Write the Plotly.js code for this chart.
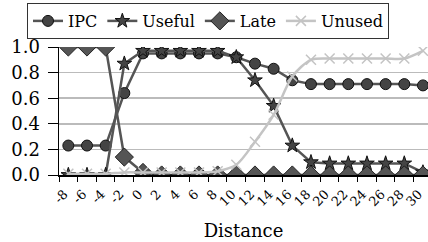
<!DOCTYPE html>
<html><head><meta charset="utf-8">
<script src="https://cdn.plot.ly/plotly-3.0.1.min.js"></script>
<style>html,body{margin:0;padding:0;background:#fff;}#chart{width:428px;height:242px;}</style>
</head><body><div id="chart"></div>
<script>
const distance = [-8,-6,-4,-2,0,2,4,6,8,10,12,14,16,18,20,22,24,26,28,30];
const ipc    = [0.23,0.23,0.23,0.64,0.95,0.95,0.95,0.95,0.95,0.92,0.87,0.83,0.74,0.71,0.71,0.71,0.71,0.71,0.71,0.70];
const useful = [0.0,0.0,0.0,0.87,0.97,0.97,0.97,0.97,0.97,0.92,0.74,0.54,0.23,0.10,0.09,0.09,0.09,0.09,0.09,0.02];
const late   = [1.0,1.0,1.0,0.14,0.02,0,0,0,0,0,0,0,0,0,0,0,0,0,0,0];
const unused = [0.01,0.01,0.01,0.02,0.02,0.02,0.02,0.02,0.03,0.08,0.26,0.47,0.77,0.90,0.91,0.91,0.91,0.91,0.91,0.97];
const tickLabels = distance.map(String);

// ticks sit on category boundaries, half a step left of each point
const tickPos = distance.map(d => d - 1);

const serif = 'DejaVu Serif';
const traces = [
  {x: distance, y: ipc, name: 'IPC', mode: 'lines+markers',
   line: {color: '#555555', width: 2.5},
   marker: {symbol: 'circle', size: 11, color: '#444444', line: {color: '#111111', width: 1}}},
  {x: distance, y: useful, name: 'Useful', mode: 'lines+markers',
   line: {color: '#555555', width: 2.5},
   marker: {symbol: 'star', size: 11, color: '#444444', line: {color: '#111111', width: 1}}},
  {x: distance, y: late, name: 'Late', mode: 'lines+markers',
   line: {color: '#555555', width: 2.5},
   marker: {symbol: 'diamond', size: 14, color: '#555555', line: {color: '#222222', width: 1}}},
  {x: distance, y: unused, name: 'Unused', mode: 'lines+markers',
   line: {color: '#c4c4c4', width: 2.5, shape: 'spline', smoothing: 0.8},
   marker: {symbol: 'x-thin', size: 10, color: '#c4c4c4', line: {color: '#c4c4c4', width: 1.5}}}
];

const layout = {
  width: 428, height: 242,
  margin: {l: 59, r: 0, t: 47, b: 67},
  paper_bgcolor: '#ffffff', plot_bgcolor: '#ffffff',
  font: {family: serif, color: '#000000'},
  showlegend: true,
  legend: {orientation: 'h', x: 27/428, xref: 'container', xanchor: 'left',
    y: 1 - 3/242, yref: 'container', yanchor: 'top',
    font: {family: serif, size: 16, color: '#000'}, bordercolor: '#333333', borderwidth: 1,
    bgcolor: '#ffffff', itemwidth: 30, tracegroupgap: 0},
  xaxis: {range: [-9, 30.54], tickvals: tickPos, ticktext: tickLabels, tickangle: -45,
    ticklabelshift: 5,
    tickfont: {family: serif, size: 13}, showgrid: false, zeroline: false,
    showline: true, linecolor: '#000', linewidth: 1.5, ticks: 'outside', ticklen: 5, tickcolor: '#000',
    title: {text: 'Distance', font: {family: serif, size: 18}, standoff: 16}},
  yaxis: {range: [0, 1], tickvals: [0, 0.2, 0.4, 0.6, 0.8, 1.0], ticktext: ['0.0','0.2','0.4','0.6','0.8','1.0'],
    tickfont: {family: serif, size: 18}, showgrid: true, gridcolor: '#bbbbbb', gridwidth: 1.5,
    zeroline: false, showline: true, linecolor: '#000', linewidth: 1.5, ticks: 'outside', ticklen: 10,
    ticklabelstandoff: 4, tickcolor: '#000'}
};

Plotly.newPlot('chart', traces, layout, {displayModeBar: false, staticPlot: true});
</script>
</body></html>
